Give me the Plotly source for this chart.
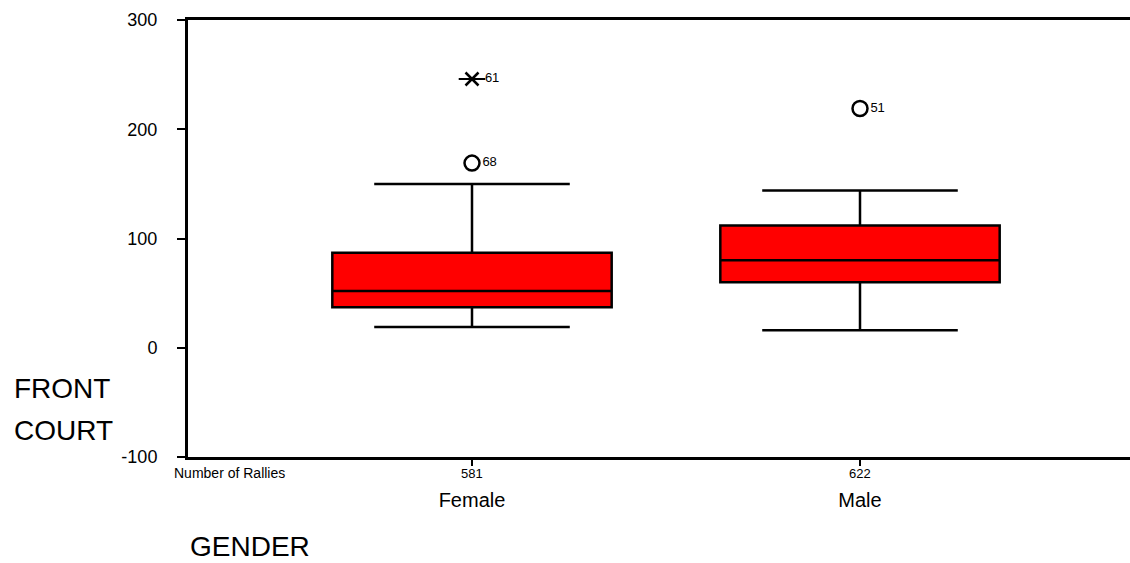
import plotly.graph_objects as go

# ---- data ----
categories = ["Female", "Male"]
counts = [581, 622]
lower_fence = [19, 16]
q1 = [37, 60]
median = [52, 80]
q3 = [87, 112]
upper_fence = [150, 144]

outlier_cat = ["Female", "Male"]
outlier_val = [169, 219]
outlier_id = ["68", "51"]

extreme_cat = ["Female"]
extreme_val = [246]
extreme_id = ["61"]

y_ticks = [-100, 0, 100, 200, 300]
y_tick_text = ["-100", "0", "100", "200", "300"]

FONT = "Liberation Sans, Arial, sans-serif"
W, H = 1130, 563
L, R, T, B = 188, 0, 20, 106
PW = W - L - R
PH = H - T - B

xpos = {c: i for i, c in enumerate(categories)}

fig = go.Figure()
fig.add_trace(go.Box(
    x=[xpos[c] for c in categories],
    q1=q1, median=median, q3=q3,
    lowerfence=lower_fence, upperfence=upper_fence,
    boxpoints=False,
    width=0.72,
    whiskerwidth=0.7,
    fillcolor="#FF0000",
    line=dict(color="black", width=2.5),
    showlegend=False,
    hoverinfo="skip",
))

# outliers (circles)
fig.add_trace(go.Scatter(
    x=[xpos[c] for c in outlier_cat], y=outlier_val,
    mode="markers+text",
    marker=dict(symbol="circle-open", size=15, color="black", line=dict(width=2.5, color="black")),
    text=outlier_id, textposition="middle right",
    textfont=dict(family=FONT, size=13, color="black"),
    showlegend=False, hoverinfo="skip",
))
# extremes (asterisk = x + horizontal line)
fig.add_trace(go.Scatter(
    x=[xpos[c] for c in extreme_cat], y=extreme_val,
    mode="markers",
    marker=dict(symbol="x-thin-open", size=13, color="black", line=dict(width=2.5, color="black")),
    showlegend=False, hoverinfo="skip",
))
fig.add_trace(go.Scatter(
    x=[xpos[c] for c in extreme_cat], y=extreme_val,
    mode="markers+text",
    marker=dict(symbol="line-ew-open", size=19, color="black", line=dict(width=2, color="black")),
    text=extreme_id, textposition="middle right",
    textfont=dict(family=FONT, size=13, color="black"),
    showlegend=False, hoverinfo="skip",
))

unit = 388.0
fig.update_xaxes(
    range=[-(472 - L) / unit, 1 + (W - 860) / unit],
    tickmode="array",
    tickvals=list(range(len(categories))),
    ticktext=categories,
    ticks="outside", ticklen=6, tickwidth=2, tickcolor="black",
    ticklabelstandoff=17,
    tickfont=dict(family=FONT, size=20, color="black"),
    showline=True, linewidth=3, linecolor="black", mirror=True,
    showgrid=False, zeroline=False,
)
fig.update_yaxes(
    range=[-100, 300],
    tickmode="array", tickvals=y_ticks, ticktext=y_tick_text,
    ticks="outside", ticklen=8, tickwidth=2, tickcolor="black",
    ticklabelstandoff=16,
    tickfont=dict(family=FONT, size=18, color="black"),
    showline=True, linewidth=3, linecolor="black",
    showgrid=False, zeroline=False,
)

annotations = []
for c, n in zip(categories, counts):
    annotations.append(dict(
        x=xpos[c], y=0, xref="x", yref="paper", yanchor="middle", yshift=-16,
        text=str(n), showarrow=False,
        font=dict(family=FONT, size=13, color="black"),
    ))
annotations.append(dict(
    x=(172 - L) / PW, y=0, xref="paper", yref="paper", xanchor="left", yanchor="middle",
    yshift=-16, text="Number of Rallies", showarrow=False,
    font=dict(family=FONT, size=14, color="black"),
))
for txt, yc in (("FRONT", 388), ("COURT", 430)):
    annotations.append(dict(
        x=(12 - L) / PW, y=(H - B - yc) / PH, xref="paper", yref="paper",
        xanchor="left", yanchor="middle", align="left",
        text=txt, showarrow=False,
        font=dict(family=FONT, size=28, color="black"),
    ))
annotations.append(dict(
    x=(250 - L) / PW, y=(H - B - 546) / PH, xref="paper", yref="paper",
    xanchor="center", yanchor="middle",
    text="GENDER", showarrow=False,
    font=dict(family=FONT, size=28, color="black"),
))

fig.update_layout(
    width=W, height=H,
    margin=dict(l=L, r=R, t=T, b=B),
    paper_bgcolor="white", plot_bgcolor="white",
    annotations=annotations,
    showlegend=False,
)

fig.write_html(
    "out.html",
    config={"displayModeBar": False},
    post_script="document.body.style.margin='0';document.body.style.overflow='hidden';",
)
